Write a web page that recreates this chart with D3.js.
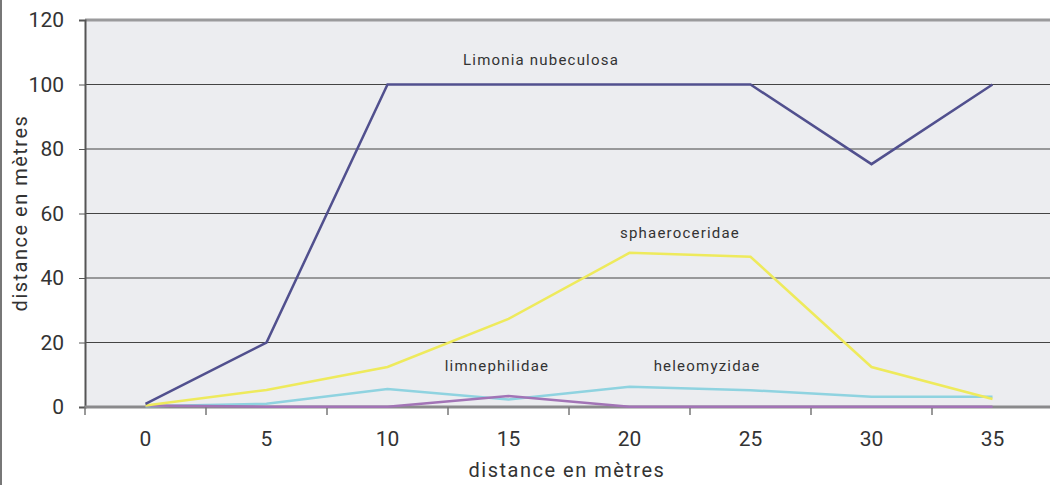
<!DOCTYPE html>
<html>
<head>
<meta charset="utf-8">
<script src="https://cdn.jsdelivr.net/npm/d3@7"></script>
<style>
  body { margin: 0; background: #fff; }
  svg text { font-family: "Liberation Sans Narrow", "Roboto", "DejaVu Sans", sans-serif; fill: #333; }
</style>
</head>
<body>
<div id="chart"></div>
<script>
const categories = ["0", "5", "10", "15", "20", "25", "30", "35"];
const yTicks = [0, 20, 40, 60, 80, 100, 120];

const limonia = [1, 20, 100, 100, 100, 100, 75.3, 100];
const sphaeroceridae = [0.5, 5.3, 12.4, 27.3, 47.8, 46.6, 12.4, 2.5];
const heleomyzidae = [0.2, 1, 5.6, 2.3, 6.3, 5.2, 3.2, 3.2];
const limnephilidae = [0.5, 0.1, 0.1, 3.4, 0.1, 0.1, 0.1, 0.1];

const series = [
  { name: "heleomyzidae", values: heleomyzidae, color: "#8fd3e0", label: [707, 366] },
  { name: "limnephilidae", values: limnephilidae, color: "#a274b6", label: [497, 366] },
  { name: "sphaeroceridae", values: sphaeroceridae, color: "#eeea5c", label: [680, 233] },
  { name: "Limonia nubeculosa", values: limonia, color: "#51508e", label: [541, 60] }
];

const W = 1050, H = 485;
const margin = { top: 20, left: 85, bottom: 78 };
const plotRight = 85 + 8 * 121;

const svg = d3.select("#chart").append("svg")
  .attr("width", W)
  .attr("height", H);

// left frame line
svg.append("line")
  .attr("x1", 1).attr("x2", 1).attr("y1", 0).attr("y2", H)
  .attr("stroke", "#777").attr("stroke-width", 2);

const x = d3.scaleBand().domain(categories).range([margin.left, plotRight]);
const y = d3.scaleLinear().domain([0, 120]).range([407, margin.top]);

// plot background
svg.append("rect")
  .attr("x", margin.left).attr("y", y(120))
  .attr("width", plotRight - margin.left).attr("height", y(0) - y(120))
  .attr("fill", "#ecedf0");

// gridlines
svg.append("g").selectAll("line")
  .data(yTicks.filter(d => d > 0 && d < 120))
  .join("line")
  .attr("x1", margin.left).attr("x2", plotRight)
  .attr("y1", d => y(d)).attr("y2", d => y(d))
  .attr("stroke", "#444").attr("stroke-width", 1);

// top border
svg.append("line")
  .attr("x1", margin.left).attr("x2", plotRight)
  .attr("y1", y(120)).attr("y2", y(120))
  .attr("stroke", "#9a9a9c").attr("stroke-width", 3);

// y axis
const yAxis = svg.append("g")
  .attr("transform", `translate(${margin.left},0)`)
  .call(d3.axisLeft(y).tickValues(yTicks).tickSize(6).tickPadding(15));
yAxis.select(".domain").attr("stroke", "#555").attr("stroke-width", 2);
yAxis.selectAll(".tick line").attr("stroke", "#555");
yAxis.selectAll(".tick text").attr("font-size", 21).attr("fill", "#333");

// x axis: ticks between categories
const xAxis = svg.append("g").attr("transform", `translate(0,${y(0)})`);
xAxis.append("line")
  .attr("x1", margin.left).attr("x2", plotRight)
  .attr("stroke", "#8a8a8c").attr("stroke-width", 3);
xAxis.selectAll("line.tk")
  .data(categories)
  .join("line")
  .attr("class", "tk")
  .attr("x1", d => x(d)).attr("x2", d => x(d))
  .attr("y1", 0).attr("y2", 8)
  .attr("stroke", "#777").attr("stroke-width", 1.5);
xAxis.selectAll("text")
  .data(categories)
  .join("text")
  .attr("x", d => x(d) + x.bandwidth() / 2)
  .attr("y", 39)
  .attr("text-anchor", "middle")
  .attr("font-size", 21)
  .text(d => d);

// lines
const line = d3.line()
  .x((d, i) => x(categories[i]) + x.bandwidth() / 2)
  .y(d => y(d));

svg.append("g").selectAll("path")
  .data(series)
  .join("path")
  .attr("d", d => line(d.values))
  .attr("fill", "none")
  .attr("stroke", d => d.color)
  .attr("stroke-width", 2.5);

// series labels
svg.append("g").selectAll("text")
  .data(series)
  .join("text")
  .attr("x", d => d.label[0])
  .attr("y", d => d.label[1] + 5)
  .attr("text-anchor", "middle")
  .attr("font-size", 15)
  .attr("letter-spacing", 1.2)
  .text(d => d.name);

// axis titles
svg.append("text")
  .attr("x", 567).attr("y", 477)
  .attr("text-anchor", "middle")
  .attr("font-size", 20)
  .attr("letter-spacing", 1.5)
  .text("distance en mètres");

svg.append("text")
  .attr("transform", "rotate(-90)")
  .attr("x", -213).attr("y", 27)
  .attr("text-anchor", "middle")
  .attr("font-size", 20)
  .attr("letter-spacing", 1.5)
  .text("distance en mètres");
</script>
</body>
</html>
